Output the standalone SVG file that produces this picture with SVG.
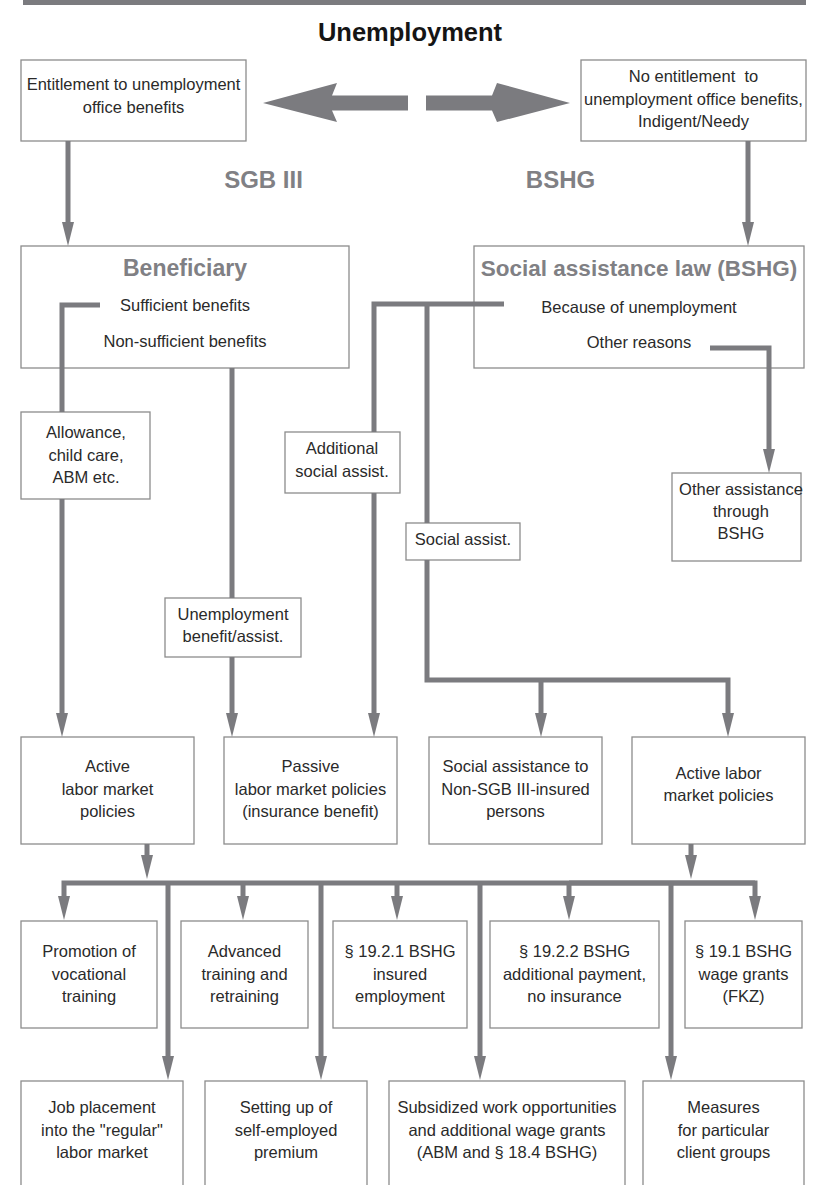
<svg xmlns="http://www.w3.org/2000/svg" width="813" height="1185" viewBox="0 0 813 1185">
<style>
.bx{fill:#fff;stroke:#8c8c8c;stroke-width:1.3}
.t{font-family:"Liberation Sans",Arial,sans-serif;font-size:16.5px;fill:#2a2a2a;text-anchor:middle}
.h{font-family:"Liberation Sans",Arial,sans-serif;font-weight:bold;fill:#808084;text-anchor:middle}
.c{fill:none;stroke:#7b7b7f;stroke-width:5;stroke-linejoin:miter}
.a{marker-end:url(#ah)}
</style>
<defs>
<marker id="ah" markerUnits="userSpaceOnUse" markerWidth="26" markerHeight="14" viewBox="0 -7 26 14" refX="2" refY="0" orient="auto">
<path d="M0,-6 L24,0 L0,6 z" fill="#7b7b7f"/>
</marker>
</defs>
<rect x="23" y="0" width="783" height="5" fill="#7b7b7f"/>
<text x="410" y="40.5" style="font-family:'Liberation Sans',Arial,sans-serif;font-weight:bold;font-size:25.5px;fill:#151515;text-anchor:middle">Unemployment</text>
<g id="big-arrows" fill="#7b7b7f">
<polygon points="263,103 337,83 332,95.5 408,95.5 408,110.5 332,110.5 337,122"/>
<polygon points="570,103 497,83 492,95.5 426,95.5 426,110.5 492,110.5 497,122"/>
</g>
<text class="h" x="263.5" y="188" font-size="24">SGB III</text>
<text class="h" x="560.5" y="188" font-size="24">BSHG</text>
<g id="n-entitled"><rect class="bx" x="21" y="60" width="225" height="81"/>
<text class="t" x="133.5" y="90">Entitlement to unemployment</text><text class="t" x="133.5" y="113">office benefits</text></g>
<g id="n-noentitled"><rect class="bx" x="581" y="60" width="225" height="81"/>
<text class="t" x="693.5" y="82" xml:space="preserve">No entitlement  to</text><text class="t" x="693.5" y="104.5">unemployment office benefits,</text><text class="t" x="693.5" y="127">Indigent/Needy</text></g>
<g id="n-beneficiary"><rect class="bx" x="21" y="246" width="328" height="122"/>
<text class="h" x="185" y="276" font-size="23">Beneficiary</text>
<text class="t" x="185" y="311">Sufficient benefits</text><text class="t" x="185" y="347">Non-sufficient benefits</text></g>
<g id="n-bshg"><rect class="bx" x="474" y="246" width="330" height="122"/>
<text class="h" x="639" y="276" font-size="22.5">Social assistance law (BSHG)</text>
<text class="t" x="639" y="313">Because of unemployment</text><text class="t" x="639" y="348">Other reasons</text></g>
<g id="n-allowance"><rect class="bx" x="21" y="412" width="129" height="87"/>
<text class="t" x="86" y="438">Allowance,</text><text class="t" x="86" y="460.5">child care,</text><text class="t" x="86" y="483">ABM etc.</text></g>
<g id="n-additional"><rect class="bx" x="285" y="432" width="115" height="61"/>
<text class="t" x="342" y="454">Additional</text><text class="t" x="342" y="477">social assist.</text></g>
<g id="n-socialassist"><rect class="bx" x="406" y="523" width="114" height="37"/>
<text class="t" x="463" y="545">Social assist.</text></g>
<g id="n-unempbenefit"><rect class="bx" x="165" y="598" width="136" height="59"/>
<text class="t" x="233" y="620">Unemployment</text><text class="t" x="233" y="642">benefit/assist.</text></g>
<g id="n-other"><rect class="bx" x="672" y="473" width="129" height="88"/>
<text class="t" x="741" y="495">Other assistance</text><text class="t" x="741" y="517">through</text><text class="t" x="741" y="539">BSHG</text></g>
<g id="n-active1"><rect class="bx" x="21" y="737" width="173" height="107"/>
<text class="t" x="107.5" y="772">Active</text><text class="t" x="107.5" y="794.5">labor market</text><text class="t" x="107.5" y="817">policies</text></g>
<g id="n-passive"><rect class="bx" x="224" y="737" width="173" height="107"/>
<text class="t" x="310.5" y="772">Passive</text><text class="t" x="310.5" y="794.5">labor market policies</text><text class="t" x="310.5" y="817">(insurance benefit)</text></g>
<g id="n-socialnon"><rect class="bx" x="429" y="737" width="173" height="107"/>
<text class="t" x="515.5" y="772">Social assistance to</text><text class="t" x="515.5" y="794.5">Non-SGB III-insured</text><text class="t" x="515.5" y="817">persons</text></g>
<g id="n-active2"><rect class="bx" x="632" y="737" width="173" height="107"/>
<text class="t" x="718.5" y="779">Active labor</text><text class="t" x="718.5" y="801">market policies</text></g>
<g id="n-promotion"><rect class="bx" x="21" y="921" width="136" height="107"/>
<text class="t" x="89" y="957">Promotion of</text><text class="t" x="89" y="979.5">vocational</text><text class="t" x="89" y="1002">training</text></g>
<g id="n-advanced"><rect class="bx" x="181" y="921" width="127" height="107"/>
<text class="t" x="244.5" y="957">Advanced</text><text class="t" x="244.5" y="979.5">training and</text><text class="t" x="244.5" y="1002">retraining</text></g>
<g id="n-s1921"><rect class="bx" x="333" y="921" width="134" height="107"/>
<text class="t" x="400" y="957">§ 19.2.1 BSHG</text><text class="t" x="400" y="979.5">insured</text><text class="t" x="400" y="1002">employment</text></g>
<g id="n-s1922"><rect class="bx" x="490" y="921" width="169" height="107"/>
<text class="t" x="574.5" y="957">§ 19.2.2 BSHG</text><text class="t" x="574.5" y="979.5">additional payment,</text><text class="t" x="574.5" y="1002">no insurance</text></g>
<g id="n-s191"><rect class="bx" x="685" y="921" width="117" height="107"/>
<text class="t" x="743.5" y="957">§ 19.1 BSHG</text><text class="t" x="743.5" y="979.5">wage grants</text><text class="t" x="743.5" y="1002">(FKZ)</text></g>
<g id="n-job"><rect class="bx" x="21" y="1081" width="162" height="120"/>
<text class="t" x="102" y="1113">Job placement</text><text class="t" x="102" y="1136">into the "regular"</text><text class="t" x="102" y="1158">labor market</text></g>
<g id="n-selfemp"><rect class="bx" x="205" y="1081" width="162" height="120"/>
<text class="t" x="286" y="1113">Setting up of</text><text class="t" x="286" y="1136">self-employed</text><text class="t" x="286" y="1158">premium</text></g>
<g id="n-subsidized"><rect class="bx" x="389" y="1081" width="236" height="120"/>
<text class="t" x="507" y="1113">Subsidized work opportunities</text><text class="t" x="507" y="1136">and additional wage grants</text><text class="t" x="507" y="1158">(ABM and § 18.4 BSHG)</text></g>
<g id="n-measures"><rect class="bx" x="643" y="1081" width="161" height="120"/>
<text class="t" x="723.5" y="1113">Measures</text><text class="t" x="723.5" y="1136">for particular</text><text class="t" x="723.5" y="1158">client groups</text></g>
<g id="connectors">
<path class="c a" d="M68,141 V224"/>
<path class="c a" d="M748,141 V224"/>
<path class="c" d="M100,305 H62 V412"/>
<path class="c a" d="M62,499 V715"/>
<path class="c" d="M232,368 V598"/>
<path class="c a" d="M232,657 V715"/>
<path class="c" d="M504,304 H374 V432"/>
<path class="c a" d="M374,493 V715"/>
<path class="c" d="M427,304 V523"/>
<path class="c a" d="M427,560 V680 H728 V715"/>
<path class="c a" d="M541,680 V715"/>
<path class="c a" d="M710,348 H769 V451"/>
<path class="c a" d="M147,844 V857"/>
<path class="c a" d="M691,844 V857"/>
<path class="c a" d="M755,883 H64 V898"/>
<path class="c a" d="M569,883 H755 V898"/>
<path class="c a" d="M243,883 V898"/>
<path class="c a" d="M397,883 V898"/>
<path class="c a" d="M569,883 V898"/>
<path class="c a" d="M168,883 V1058"/>
<path class="c a" d="M321,883 V1058"/>
<path class="c a" d="M480,883 V1058"/>
<path class="c a" d="M671,883 V1058"/>
</g>
</svg>
